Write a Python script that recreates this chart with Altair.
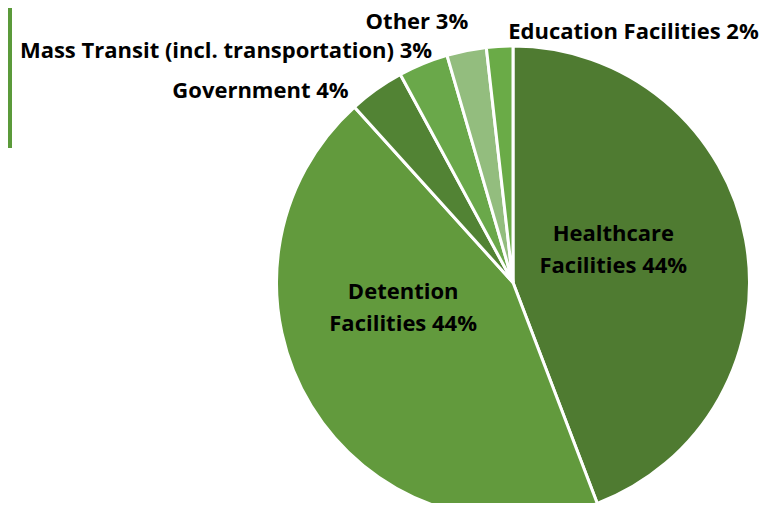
import altair as alt
import pandas as pd

categories = ["Healthcare Facilities", "Detention Facilities", "Government",
              "Mass Transit (incl. transportation)", "Other", "Education Facilities"]
shares = [44.2, 44.1, 3.8, 3.4, 2.7, 1.8]
label_texts = ["Healthcare\nFacilities 44%", "Detention\nFacilities 44%", "Government 4%",
               "Mass Transit (incl. transportation) 3%", "Other 3%", "Education Facilities 2%"]
colors = ["#4f7b31", "#629a3d", "#528334", "#6aa84a", "#93bd7e", "#6aab47"]

df = pd.DataFrame({"category": categories, "share": shares,
                   "label": label_texts, "idx": list(range(len(categories)))})
df["mid"] = df["share"].cumsum() - df["share"] / 2

FONT = "Open Sans"
FS = 22
# label placement styles: radius, dx, dy, align, baseline
label_style = {
    "Healthcare Facilities": (100, 2, -30, "center", "middle"),
    "Detention Facilities": (130, 1, -58, "center", "middle"),
    "Government": (250, -20, 20, "right", "alphabetic"),
    "Mass Transit (incl. transportation)": (250, 14, 7, "right", "alphabetic"),
    "Other": (265, -44, 6.5, "center", "alphabetic"),
    "Education Facilities": (252, 9.5, 8.5, "left", "alphabetic"),
}

theta_scale = alt.Scale(domain=[0, 100])
base = alt.Chart(df)

arc = base.mark_arc(stroke="white", strokeWidth=3, radius=236.5).encode(
    theta=alt.Theta("share:Q", stack=True, scale=theta_scale),
    color=alt.Color("category:N", scale=alt.Scale(domain=categories, range=colors), legend=None),
    order=alt.Order("idx:Q", sort="ascending"),
)

layers = [arc]
for cat in categories:
    r, dx, dy, al, bl = label_style[cat]
    t = base.transform_filter(alt.datum.category == cat).mark_text(
        radius=r, dx=dx, dy=dy, align=al, baseline=bl, font=FONT, fontWeight="bold",
        fontSize=FS, lineBreak="\n", lineHeight=32, color="#000000",
    ).encode(
        theta=alt.Theta("mid:Q", stack=False, scale=theta_scale),
        text="label:N",
    )
    layers.append(t)

bar = alt.Chart(pd.DataFrame({"a": [0]})).mark_rule(color="#5b9a3a", strokeWidth=4).encode(
    x=alt.value(-266.5), y=alt.value(-60), y2=alt.value(80.5)
)
layers.append(bar)

chart = alt.layer(*layers).properties(
    width=473, height=430,
    padding={"left": 268.5, "top": 59.5, "right": 9.5, "bottom": 5.5},
    autosize="none", background="white",
).configure_view(strokeWidth=0)

chart.save("out.html", embed_options={"renderer": "svg", "actions": False})
